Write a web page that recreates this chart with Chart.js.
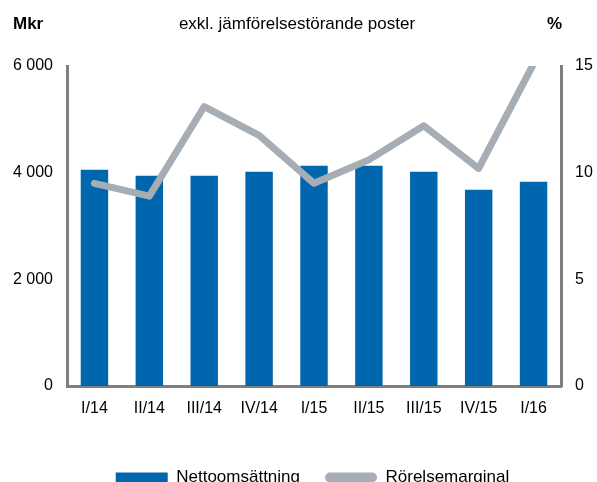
<!DOCTYPE html>
<html>
<head>
<meta charset="utf-8">
<script src="https://cdn.jsdelivr.net/npm/chart.js@4.4.0/dist/chart.umd.min.js"></script>
<style>
  html, body { margin: 0; padding: 0; background: #fff; overflow: hidden; }
  #wrap { width: 597px; height: 496px; }
</style>
</head>
<body>
<div id="wrap"><canvas id="chart" width="597" height="496"></canvas></div>
<script>
// data
var kvartal = ["I/14", "II/14", "III/14", "IV/14", "I/15", "II/15", "III/15", "IV/15", "I/16"];
var nettoomsattning = [4057, 3944, 3944, 4019, 4132, 4132, 4019, 3681, 3831];
var rorelsemarginal = [9.5, 8.9, 13.1, 11.75, 9.5, 10.6, 12.2, 10.2, 15.1];
var mkrTicks = [0, 2000, 4000, 6000];
var procentTicks = [0, 5, 10, 15];

var font = "'Liberation Sans', Arial, sans-serif";
Chart.defaults.font.family = font;
Chart.defaults.font.size = 16;
Chart.defaults.color = "#000";

var axisGray = "#7f7f7f";
var blue = "#0066ad";
var gray = "#a6adb4";

// texts above the plot
var rubriker = {
    id: "rubriker",
    afterDraw: function (chart) {
        var c = chart.ctx;
        c.save();
        c.fillStyle = "#000";
        c.textBaseline = "middle";
        c.font = "bold 17px " + font;
        c.textAlign = "left";
        c.fillText("Mkr", 13, 24);
        c.fillText("%", 547, 24);
        c.font = "17px " + font;
        c.textAlign = "center";
        c.fillText("exkl. jämförelsestörande poster", 297, 24);
        c.restore();
    },
    afterLayout: function (chart) {
        // legend sits a bit right of centre in the original
        chart.legend.left += 14;
        chart.legend.right += 14;
    }
};

function fmt(v) {
    return String(v).replace(/\B(?=(\d{3})+(?!\d))/g, " ");
}

var ctx = document.getElementById("chart");
var chart = new Chart(ctx, {
    type: "bar",
    data: {
        labels: kvartal,
        datasets: [{
            label: "Nettoomsättning",
            data: nettoomsattning,
            backgroundColor: blue,
            borderWidth: 0,
            categoryPercentage: 1.0,
            barPercentage: 0.5,
            yAxisID: "y",
            order: 1
        }, {
            type: "line",
            label: "Rörelsemarginal",
            data: rorelsemarginal,
            borderColor: gray,
            backgroundColor: gray,
            borderWidth: 7,
            pointRadius: 0,
            tension: 0,
            borderCapStyle: "round",
            borderJoinStyle: "round",
            clip: 0,
            yAxisID: "y1",
            order: 0
        }]
    },
    options: {
        responsive: false,
        animation: false,
        layout: { padding: { top: 66, left: 0, right: 0, bottom: 0 } },
        plugins: {
            title: { display: false },
            tooltip: { enabled: false },
            legend: {
                position: "bottom",
                labels: {
                    boxWidth: 52,
                    boxHeight: 10,
                    padding: 25,
                    color: "#000",
                    font: { size: 17 },
                    useBorderRadius: true,
                    generateLabels: function (chart) {
                        return chart.data.datasets.map(function (ds, i) {
                            var isLine = ds.type === "line";
                            return {
                                text: ds.label,
                                fillStyle: isLine ? gray : blue,
                                strokeStyle: isLine ? gray : blue,
                                lineWidth: 0,
                                borderRadius: isLine ? 5 : 0,
                                hidden: false,
                                datasetIndex: i
                            };
                        });
                    }
                }
            }
        },
        scales: {
            x: {
                grid: { display: false, drawTicks: false },
                border: { display: true, color: axisGray, width: 3 },
                ticks: { padding: 13, maxRotation: 0, autoSkip: false },
                afterFit: function (s) { s.height = 58; }
            },
            y: {
                position: "left",
                min: 0,
                max: 6000,
                afterBuildTicks: function (s) {
                    s.ticks = mkrTicks.map(function (v) { return { value: v }; });
                },
                grid: { display: false, drawTicks: false },
                border: { display: true, color: axisGray, width: 3 },
                ticks: { padding: 14, callback: function (v) { return fmt(v); } },
                afterFit: function (s) { s.width = 67; }
            },
            y1: {
                position: "right",
                min: 0,
                max: 15,
                afterBuildTicks: function (s) {
                    s.ticks = procentTicks.map(function (v) { return { value: v }; });
                },
                grid: { display: false, drawTicks: false },
                border: { display: true, color: axisGray, width: 3 },
                ticks: { padding: 14 },
                afterFit: function (s) { s.width = 36; }
            }
        }
    },
    plugins: [rubriker]
});
</script>
</body>
</html>
